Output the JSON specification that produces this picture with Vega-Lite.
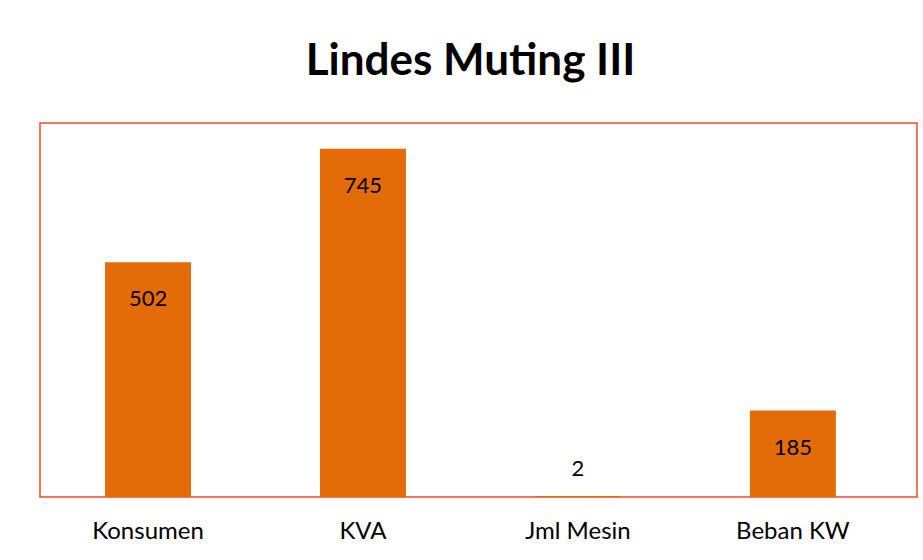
{
  "$schema": "https://vega.github.io/schema/vega-lite/v6.json",
  "width": 877,
  "height": 374,
  "autosize": {"type": "pad"},
  "padding": {"left": 40, "top": 40, "right": 6, "bottom": 0},
  "background": "white",
  "title": {
    "text": "Lindes Muting III",
    "font": "Lato",
    "fontSize": 44,
    "fontWeight": "bold",
    "color": "black",
    "anchor": "middle",
    "dx": -8,
    "offset": 39
  },
  "config": {
    "view": {"stroke": "#EE4B2B", "strokeWidth": 1.5},
    "font": "Lato"
  },
  "data": {
    "values": [
      {"kategori": "Konsumen", "nilai": 502},
      {"kategori": "KVA", "nilai": 745},
      {"kategori": "Jml Mesin", "nilai": 2},
      {"kategori": "Beban KW", "nilai": 185}
    ]
  },
  "encoding": {
    "x": {
      "field": "kategori",
      "type": "nominal",
      "sort": null,
      "scale": {"paddingInner": 0.6, "paddingOuter": 0.34, "align": 0.445},
      "axis": {
        "title": null,
        "labelAngle": 0,
        "labelFont": "Lato",
        "labelFontSize": 24,
        "labelColor": "black",
        "labelPadding": 22,
        "ticks": false,
        "domain": false
      }
    },
    "y": {
      "field": "nilai",
      "type": "quantitative",
      "scale": {"domain": [0, 800]},
      "axis": null
    }
  },
  "layer": [
    {"mark": {"type": "bar", "color": "#E36C09"}},
    {
      "transform": [{"filter": "datum.nilai >= 50"}],
      "mark": {"type": "text", "font": "Lato", "fontSize": 22, "color": "black", "baseline": "middle", "dy": 37},
      "encoding": {"text": {"field": "nilai", "type": "quantitative"}}
    },
    {
      "transform": [{"filter": "datum.nilai < 50"}],
      "mark": {"type": "text", "font": "Lato", "fontSize": 22, "color": "black", "baseline": "middle", "dy": -27},
      "encoding": {"text": {"field": "nilai", "type": "quantitative"}}
    }
  ]
}
